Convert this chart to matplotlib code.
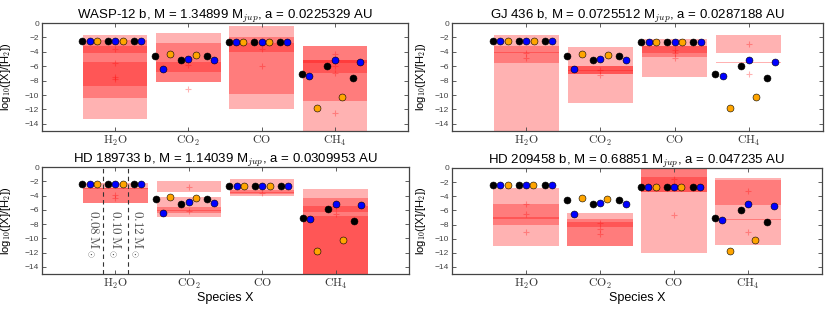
import numpy as np
import matplotlib
matplotlib.use('Agg')
from matplotlib import pyplot as plt

plt.rcParams['font.family'] = ['Liberation Sans', 'DejaVu Sans']
plt.rcParams['mathtext.fontset'] = 'cm'

# Species on the x axis and stellar masses of the model grid
species = [r'$\mathrm{H_2O}$', r'$\mathrm{CO_2}$', r'$\mathrm{CO}$', r'$\mathrm{CH_4}$']
star_masses = [r'$0.08\,\mathrm{M}_\odot$', r'$0.10\,\mathrm{M}_\odot$', r'$0.12\,\mathrm{M}_\odot$']

# Model abundances, one row per species, one value per stellar mass
model_black = [[-2.45, -2.45, -2.45], [-4.54, -5.14, -4.54], [-2.68, -2.68, -2.68], [-7.13, -5.93, -7.64]]
model_blue = [[-2.45, -2.45, -2.45], [-6.44, -4.95, -5.09], [-2.68, -2.68, -2.68], [-7.31, -5.14, -5.37]]
model_orange = [[-2.45, -2.45, np.nan], [-4.26, -4.40, np.nan], [-2.68, -2.68, np.nan], [-11.76, -10.23, np.nan]]

# Retrieved credible intervals (top, bottom) per species, and sample markers
wasp12_bands = [[(-1.6, -13.3), (-2.3, -10.4), (-3.2, -4.1), (-5.4, -8.8)],
                [(-1.45, -8.15), (-2.8, -8.15), (-5.35, -6.75)],
                [(-0.4, -11.9), (-2.0, -9.85), (-2.8, -4.0)],
                [(-3.2, -15.5), (-3.2, -10.8), (-5.2, -7.0), (-5.2, -5.6)]]
wasp12_plus = [[-3.65, -5.6, -7.55, -7.8], [-5.9, -9.1], [-3.65, -6.0], [-4.25, -6.0, -7.0, -12.5]]

gj436_bands = [[(-1.65, -15.5), (-3.2, -5.6), (-4.05, -4.2)],
               [(-3.4, -11.15), (-6.0, -7.05), (-6.0, -7.05), (-6.55, -6.65)],
               [(-2.25, -7.45), (-3.2, -4.7), (-3.2, -4.1)],
               [(-1.65, -4.2), (-5.38, -5.55)]]
gj436_plus = [[-4.1, -4.85], [-6.5, -7.2], [-3.7, -4.1, -4.8], [-2.9, -7.1]]

hd189733_bands = [[(-2.3, -5.05), (-2.95, -5.05), (-3.0, -3.15)],
                  [(-1.9, -3.55), (-4.25, -7.05), (-5.6, -6.5), (-6.0, -6.15)],
                  [(-1.75, -4.05), (-3.2, -3.85), (-3.45, -3.6)],
                  [(-3.15, -15.5), (-4.4, -15.5), (-5.5, -6.3), (-6.8, -15.5)]]
hd189733_plus = [[-3.9, -4.4], [-2.8, -6.1], [-3.7], [-5.6, -6.6]]

hd209458_bands = [[(-2.8, -11.0), (-5.1, -8.0), (-7.0, -7.2)],
                  [(-6.35, -11.0), (-7.2, -11.0), (-7.7, -8.4)],
                  [(-0.2, -12.0), (-0.2, -3.4), (-1.3, -3.4)],
                  [(-1.35, -10.95), (-1.7, -5.3), (-7.15, -7.35)]]
hd209458_plus = [[-5.05, -6.55, -9.0], [-7.8, -8.6, -9.3], [-1.6, -2.4, -6.7], [-3.2, -9.0]]

titles = ['WASP-12 b, M = 1.34899 M$_{jup}$, a = 0.0225329 AU',
          'GJ 436 b, M = 0.0725512 M$_{jup}$, a = 0.0287188 AU',
          'HD 189733 b, M = 1.14039 M$_{jup}$, a = 0.0309953 AU',
          'HD 209458 b, M = 0.68851 M$_{jup}$, a = 0.047235 AU']
all_bands = [wasp12_bands, gj436_bands, hd189733_bands, hd209458_bands]
all_plus = [wasp12_plus, gj436_plus, hd189733_plus, hd209458_plus]

mass_offsets = [-0.35, 0.0, 0.35]
model_offsets = [-0.1, 0.0, 0.1]
model_colors = ['black', 'blue', 'orange']

W, H = 830.0, 312.0
fig = plt.figure(figsize=(8.3, 3.12), dpi=100)
boxes = [(42, 23, 366, 108), (452, 23, 371, 108), (42, 167, 367, 107), (452, 168, 370, 106)]

for k, (l, t, w, h) in enumerate(boxes):
    ax = fig.add_axes([l / W, 1 - (t + h) / H, w / W, h / H])
    xs = np.arange(1, len(species) + 1)

    # Shaded intervals
    for i, bands in enumerate(all_bands[k]):
        for top, bot in bands:
            ax.bar(xs[i], top - bot, bottom=bot, width=0.88, color='red', alpha=0.3, lw=0, zorder=1)
        pl = all_plus[k][i]
        ax.plot([xs[i]] * len(pl), pl, '+', color='red', alpha=0.3, ms=4, mew=0.8, zorder=2)

    # Model predictions
    for j, vals in enumerate([model_black, model_blue, model_orange]):
        vals = np.array(vals)
        for m in range(3):
            ax.plot(xs + mass_offsets[m] + model_offsets[j], vals[:, m], 'o', color=model_colors[j],
                    mec='black', mew=0.4, ms=5, zorder=3)

    if k == 2:
        for x in [1 - 0.175, 1 + 0.175]:
            ax.axvline(x, color='#333333', ls='--', lw=0.8, dashes=(4, 3), zorder=2)
        for x, lab in zip([0.69, 1.0, 1.29], star_masses):
            ax.text(x, -6.0, lab, rotation=270, ha='center', va='top', color='0.3', fontsize=9.5)

    ax.set_xlim(0, 5)
    ax.set_ylim(-15, 0)
    ax.set_xticks(xs)
    ax.set_xticklabels(species, fontsize=8.5)
    ax.set_yticks(np.arange(0, -15, -2))
    ax.tick_params(axis='both', direction='in', top=True, right=True, length=3, width=0.6,
                   colors='#444444', pad=2)
    ax.tick_params(axis='y', labelsize=6)
    ax.tick_params(axis='x', labelcolor='#333333')
    for s in ax.spines.values():
        s.set_color('#444444')
        s.set_linewidth(0.9)
    ax.set_title(titles[k], fontsize=9.5, pad=3)
    ax.set_ylabel('log$_{10}$([X]/[H$_2$])', fontsize=8)
    ax.yaxis.set_label_coords(-29.0 / w if k % 2 == 0 else -24.0 / w, 0.5)
    if k >= 2:
        ax.set_xlabel('Species X', fontsize=9, labelpad=1)

fig.savefig('out.png', dpi=100)
